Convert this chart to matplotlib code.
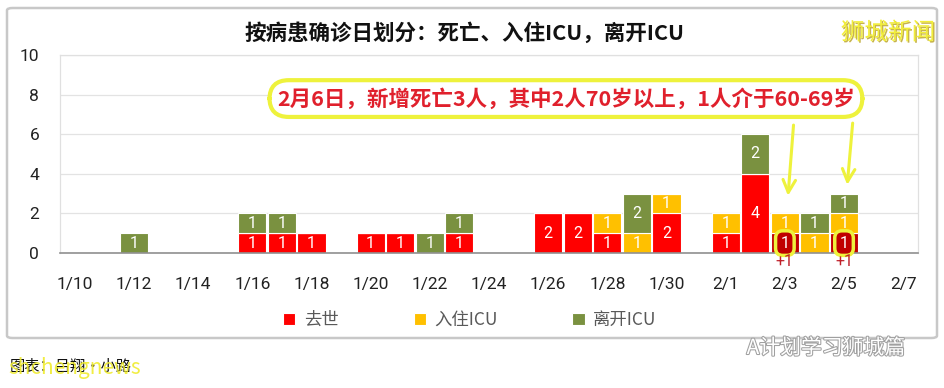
import matplotlib
matplotlib.use("Agg")
import matplotlib.pyplot as plt
from matplotlib.patches import FancyBboxPatch
import matplotlib.patheffects as pe
import numpy as np

plt.rcParams['font.family'] = ['Noto Sans CJK SC', 'DejaVu Sans']

# ---------------- data ----------------
dates = ['1/10', '1/11', '1/12', '1/13', '1/14', '1/15', '1/16', '1/17', '1/18', '1/19',
         '1/20', '1/21', '1/22', '1/23', '1/24', '1/25', '1/26', '1/27', '1/28', '1/29',
         '1/30', '1/31', '2/1', '2/2', '2/3', '2/4', '2/5', '2/6', '2/7']
deaths  = [0, 0, 0, 0, 0, 0, 1, 1, 1, 0, 1, 1, 0, 1, 0, 0, 2, 2, 1, 0, 2, 0, 1, 4, 1, 0, 1, 0, 0]
icu_in  = [0, 0, 0, 0, 0, 0, 0, 0, 0, 0, 0, 0, 0, 0, 0, 0, 0, 0, 1, 1, 1, 0, 1, 0, 1, 1, 1, 0, 0]
icu_out = [0, 0, 1, 0, 0, 0, 1, 1, 0, 0, 0, 0, 1, 1, 0, 0, 0, 0, 0, 2, 0, 0, 0, 2, 0, 1, 1, 0, 0]
new_death_dates = ['2/3', '2/5']
series_names = ['去世', '入住ICU', '离开ICU']
title = '按病患确诊日划分：死亡、入住ICU，离开ICU'
callout = '2月6日，新增死亡3人，其中2人70岁以上，1人介于60-69岁'

# ---------------- style ----------------
C_RED, C_DARKRED, C_YEL, C_GRN = '#FF0000', '#C00000', '#FFC000', '#7A9140'
HL_YEL = '#EEF23C'

fig = plt.figure(figsize=(9.45, 3.88), dpi=100)
ax = fig.add_axes([60/945, 1-253/388, (918-60)/945, (253-55)/388])

x = np.arange(len(dates))
d = np.array(deaths); i_in = np.array(icu_in); i_out = np.array(icu_out)
red_colors = [C_DARKRED if dt in new_death_dates else C_RED for dt in dates]

w = 0.95
b1 = ax.bar(x, d, w, color=red_colors, edgecolor='white', linewidth=0.8, label=series_names[0])
b2 = ax.bar(x, i_in, w, bottom=d, color=C_YEL, edgecolor='white', linewidth=0.8, label=series_names[1])
b3 = ax.bar(x, i_out, w, bottom=d + i_in, color=C_GRN, edgecolor='white', linewidth=0.8, label=series_names[2])
b1.patches[0].set_facecolor(C_RED)  # legend colour

lblfont = dict(color='white', fontsize=11.5, family=['Roboto', 'DejaVu Sans'])
texts = []
for bars, vals in ((b1, d), (b2, i_in), (b3, i_out)):
    t = ax.bar_label(bars, labels=[str(v) if v else '' for v in vals], label_type='center', **lblfont)
    texts.append(t)

# highlight boxes on newly added deaths
for dt in new_death_dates:
    k = dates.index(dt)
    texts[0][k].set_bbox(dict(boxstyle='round,pad=0.3,rounding_size=0.45', facecolor=C_DARKRED,
                              edgecolor=HL_YEL, linewidth=2.5))
    ax.text(k, -0.45, '+1', ha='center', va='center', color='#C0202A', fontsize=11.5,
            family=['Roboto', 'DejaVu Sans'])

ax.set_xlim(-0.5, len(dates) - 0.5)
ax.set_ylim(0, 10)
ax.set_yticks(range(0, 11, 2))
ax.set_xticks(x[::2])
ax.set_xticklabels(dates[::2])
ax.tick_params(axis='both', length=0, labelsize=12.5, labelcolor='#222222')
ax.tick_params(axis='x', pad=17)
ax.tick_params(axis='y', pad=15)
for lab in ax.get_xticklabels() + ax.get_yticklabels():
    lab.set_family(['Roboto', 'DejaVu Sans'])
ax.grid(axis='y', color='#E3E3E3', linewidth=0.9)
ax.set_axisbelow(True)
for s in ('left', 'right', 'top'):
    ax.spines[s].set_color('#E0E0E0')
    ax.spines[s].set_linewidth(0.9)
ax.spines['bottom'].set_color('#909090')
ax.spines['bottom'].set_linewidth(1.2)

# callout
ax.text(16.6, 7.8, callout, ha='center', va='center', color='#E0202C', fontsize=15.5,
        fontweight='bold',
        bbox=dict(boxstyle='round,pad=0.35,rounding_size=0.9', facecolor='white',
                  edgecolor=HL_YEL, linewidth=3))
for k, (x0, y0, x1, y1) in zip(new_death_dates, [(24.3, 6.6, 24.1, 2.75), (26.3, 6.7, 26.1, 3.3)]):
    ax.annotate('', xy=(x1, y1), xytext=(x0, y0),
                arrowprops=dict(arrowstyle='->,head_length=0.9,head_width=0.45', color=HL_YEL, lw=2.2))

# title
fig.text(465/945, 1-33/388, title, ha='center', va='center', fontsize=15.5, fontweight='bold', color='#111111')

# legend
leg = fig.legend(handles=[b1, b2, b3], labels=series_names, loc='center', ncol=3,
                 bbox_to_anchor=(470/945, 1-320/388), frameon=False, fontsize=12.5,
                 handlelength=0.7, handleheight=0.7, handletextpad=0.5, columnspacing=4.3)
for t in leg.get_texts():
    t.set_color('#595959')

# chart frame
frame = FancyBboxPatch((7/945, 1-338/388), (937-7)/945, (338-8)/388,
                       boxstyle='round,pad=0,rounding_size=0.006', transform=fig.transFigure,
                       facecolor='none', edgecolor='#C8C8C8', linewidth=1.8)
fig.patches.append(frame)

# watermarks
fig.text(888/945, 1-33/388, '狮城新闻', ha='center', va='center', fontsize=17, color='#F2EE3A',
         path_effects=[pe.withSimplePatchShadow(offset=(1, -1), shadow_rgbFace='#B8A020', alpha=0.8)])
fig.text(10/945, 1-366/388, '图表：吕翔·小路', ha='left', va='center', fontsize=11, color='#111111')
fig.text(8/945, 1-368/388, 'shchengnews', ha='left', va='center', fontsize=15, color='#F0EC30', alpha=0.9)
fig.text(826/945, 1-348/388, 'A计划学习狮城篇', ha='center', va='center', fontsize=15, color='white',
         path_effects=[pe.withStroke(linewidth=1.5, foreground='#A0A0A0')])

fig.savefig('out.png', dpi=100)
